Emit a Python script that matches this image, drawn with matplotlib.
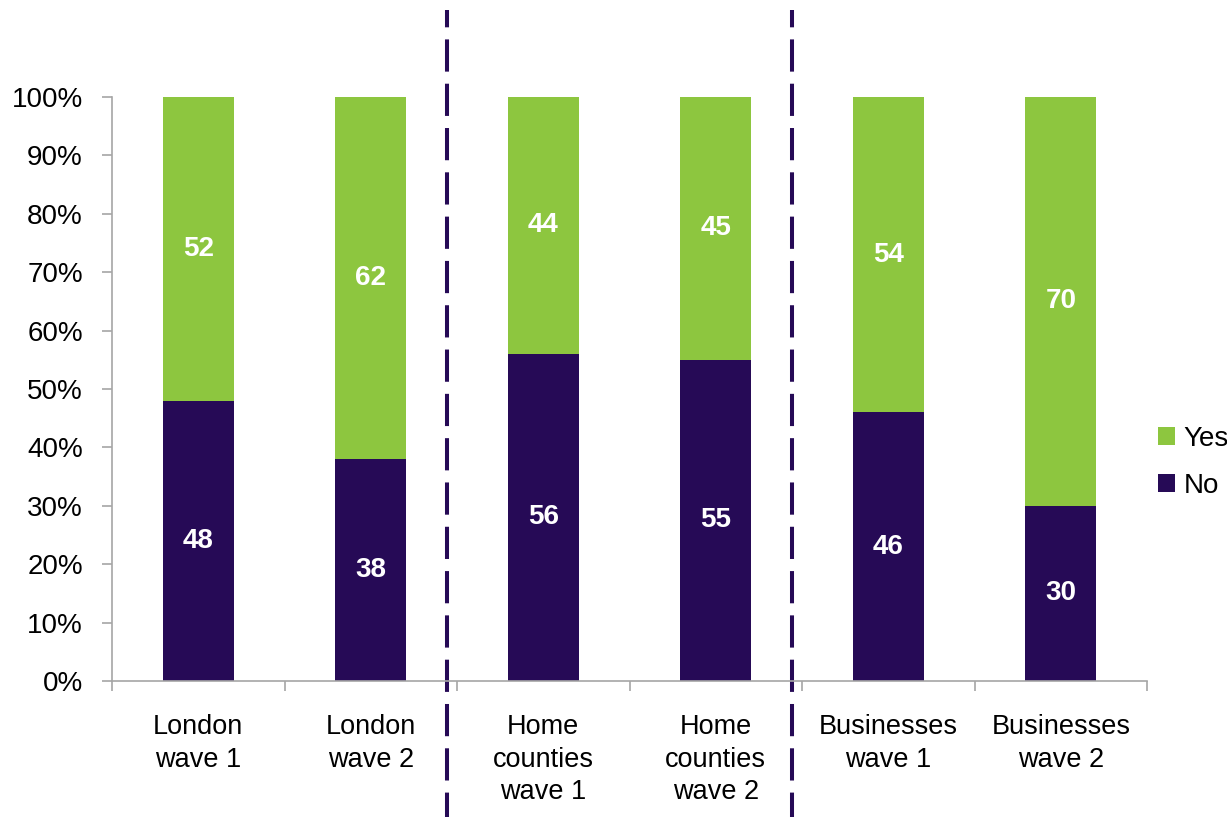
# stacked yes/no bars by group and wave

import numpy as np
import matplotlib.pyplot as plt
from matplotlib.transforms import blended_transform_factory

plt.rcParams['font.family'] = ['Liberation Sans', 'DejaVu Sans']

categories = ['London\nwave 1', 'London\nwave 2', 'Home\ncounties\nwave 1',
              'Home\ncounties\nwave 2', 'Businesses\nwave 1', 'Businesses\nwave 2']
no_vals = [48, 38, 56, 55, 46, 30]
yes_vals = [52, 62, 44, 45, 54, 70]
yticks = np.arange(0, 101, 10)

green = '#8DC63F'
purple = '#260A56'
grey = '#A6A6A6'

fig = plt.figure(figsize=(12.27, 8.17), dpi=100)
ax = fig.add_axes([0.0913, 0.1665, 0.8435, 0.7148])

x = np.arange(len(categories))
width = 0.41
no_bars = ax.bar(x, no_vals, width, color=purple, label='No')
yes_bars = ax.bar(x, yes_vals, width, bottom=no_vals, color=green, label='Yes')

def autolabel(rects, bottoms):
    """put the value in the middle of each segment"""
    for rect, b in zip(rects, bottoms):
        h = rect.get_height()
        ax.text(rect.get_x() + rect.get_width() / 2., b + h / 2., '%d' % h,
                ha='center', va='center', color='white', fontsize=20,
                fontweight='bold')

autolabel(no_bars, [0] * len(no_vals))
autolabel(yes_bars, no_vals)

ax.set_xlim(-0.5, len(categories) - 0.5)
ax.set_ylim(0, 100)
ax.set_yticks(yticks)
ax.set_yticklabels(['%d%%' % v for v in yticks], fontsize=20)
ax.set_xticks(x)
ax.set_xticklabels(categories, fontsize=19.5, linespacing=1.32)
ax.set_xticks(np.arange(-0.5, len(categories)), minor=True)
ax.tick_params(axis='x', which='major', length=0, pad=24)
ax.tick_params(axis='x', which='minor', length=7, color=grey, width=1.2)
ax.tick_params(axis='y', length=7, color=grey, width=1.2, pad=14)

for s in ['top', 'right']:
    ax.spines[s].set_visible(False)
for s in ['left', 'bottom']:
    ax.spines[s].set_color(grey)
    ax.spines[s].set_linewidth(1.2)

# dashed separators between groups
trans = blended_transform_factory(ax.transData, fig.transFigure)
for xs in [1.44, 3.44]:
    ax.plot([xs, xs], [1 - 10 / 817, 0], transform=trans, clip_on=False,
            color=purple, lw=2.9, ls=(3.7, (8, 3)), solid_capstyle='butt')

handles, labels = ax.get_legend_handles_labels()
ax.legend(handles[::-1], labels[::-1], loc='center left',
          bbox_to_anchor=(0.935, 0.434), bbox_transform=fig.transFigure,
          frameon=False, fontsize=20, handlelength=0.6, handleheight=0.6,
          handletextpad=0.3, labelspacing=0.75, borderaxespad=0)

fig.savefig('out.png', dpi=100)
